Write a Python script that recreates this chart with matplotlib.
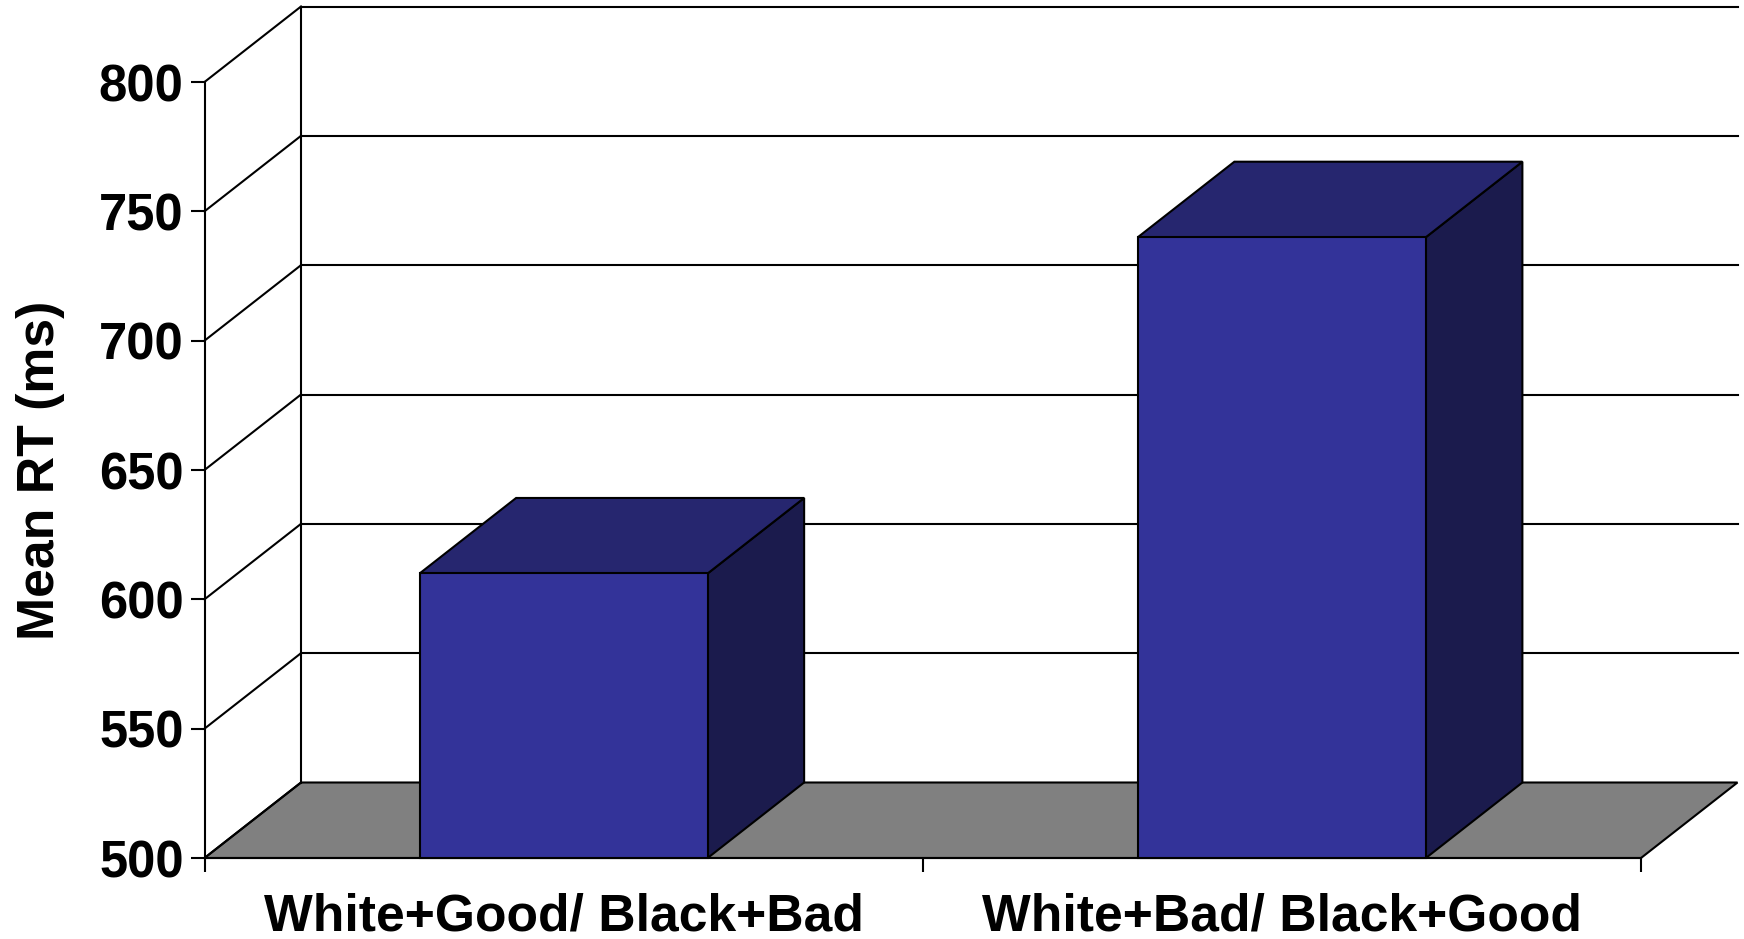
import matplotlib
matplotlib.use('Agg')
import matplotlib.pyplot as plt
from matplotlib.patches import Polygon

# Values
categories = ['White+Good/ Black+Bad', 'White+Bad/ Black+Good']
mean_rt = [610, 740]
yticks = [500, 550, 600, 650, 700, 750, 800]

W, H = 1744, 939
plt.rcParams['font.family'] = ['Liberation Sans', 'DejaVu Sans']
plt.rcParams['font.weight'] = 'bold'

fig = plt.figure(figsize=(W / 100, H / 100), dpi=100)

# Front plane of the fake 3D box, in pixels
left, right = 204.5, 1641
bottom, top = 858, 82
ax = fig.add_axes([left / W, 1 - bottom / H, (right - left) / W, (bottom - top) / H])
ax.set_xlim(0, 2)
ax.set_ylim(500, 800)

# Depth of the box in data units
dx = 96.5 / (right - left) * 2
dy = 75.5 / (bottom - top) * 300
bar_w = 0.401
lw = 1.5


def poly(pts, fc, z=2):
    ax.add_patch(Polygon(pts, closed=True, fc=fc, ec='black', lw=lw, zorder=z, clip_on=False))


# Floor
poly([(0, 500), (dx, 500 + dy), (2 + dx, 500 + dy), (2, 500)], '#808080', z=1)

# Back wall and gridlines
for y in yticks:
    ax.plot([0, dx], [y, y + dy], color='black', lw=lw, zorder=1, clip_on=False)
    if y > 500:
        ax.plot([dx, 2 + dx], [y + dy, y + dy], color='black', lw=lw, zorder=1, clip_on=False)
ax.plot([dx, dx], [500 + dy, 800 + dy], color='black', lw=lw, zorder=1, clip_on=False)

# Bars: front, side and top faces
for i, val in enumerate(mean_rt):
    x0 = i + 0.5 - bar_w / 2
    x1 = x0 + bar_w
    poly([(x1, 500), (x1 + dx, 500 + dy), (x1 + dx, val + dy), (x1, val)], '#1B1B4D', z=3)
    poly([(x0, val), (x0 + dx, val + dy), (x1 + dx, val + dy), (x1, val)], '#26266F', z=3)
    poly([(x0, 500), (x0, val), (x1, val), (x1, 500)], '#333399', z=4)

for s in ['top', 'right']:
    ax.spines[s].set_visible(False)
for s in ['left', 'bottom']:
    ax.spines[s].set_linewidth(lw)

ax.set_xticks([0, 1, 2])
ax.set_xticklabels([])
ax.set_xticks([0.5, 1.5], labels=categories, minor=True)
ax.tick_params(axis='x', which='major', length=10, width=lw)
ax.tick_params(axis='x', which='minor', length=0, pad=24.5, labelsize=37.2)
ax.set_yticks(yticks)
ax.tick_params(axis='y', length=10, width=lw, pad=5, labelsize=36.5)
ax.patch.set_alpha(0)
ax.set_ylabel('Mean RT (ms)', fontsize=37.3, fontweight='bold')
ax.yaxis.set_label_coords(-0.0974, 0.5)

fig.savefig('out.png', dpi=100)
